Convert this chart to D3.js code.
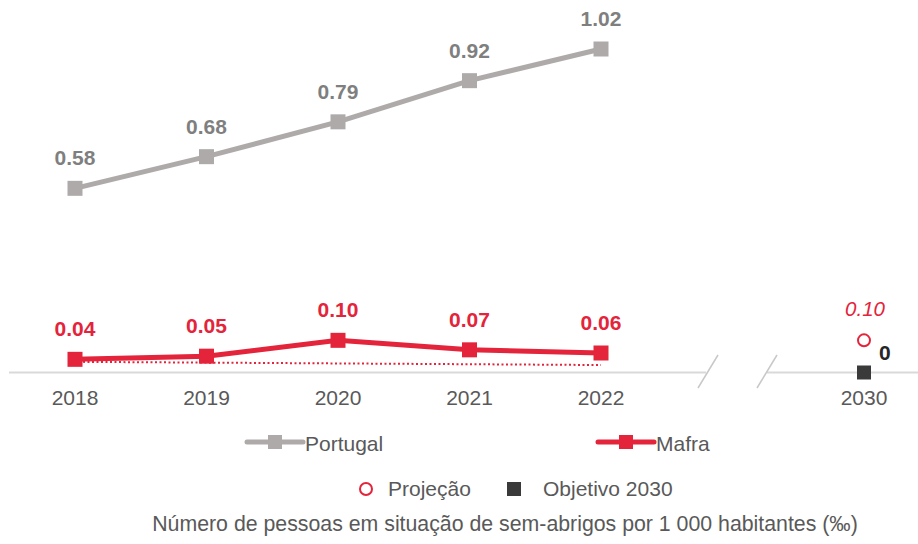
<!DOCTYPE html>
<html><head><meta charset="utf-8">
<script src="https://cdn.jsdelivr.net/npm/d3@7"></script>
<style>body{margin:0;background:#fff}svg{display:block;font-family:"Liberation Sans",Arial,sans-serif}</style>
</head><body><svg id="c" width="918" height="544"></svg>
<script>
const years = ["2018","2019","2020","2021","2022"];
const slots = ["2018","2019","2020","2021","2022","gap","2030"];
const portugal = [0.58,0.68,0.79,0.92,1.02];
const mafra = [0.04,0.05,0.10,0.07,0.06];
const trend = [0.032,0.022];
const projection2030 = 0.10;
const objective2030 = 0;
const labelsTick = ["2018","2019","2020","2021","2022","2030"];
const legendSeries = ["Portugal","Mafra"];
const legendMarks = ["Projeção","Objetivo 2030"];
const footer = "Número de pessoas em situação de sem-abrigos por 1 000 habitantes (‰)";

const grey="#aeaaaa", greyTxt="#7f7f7f", red="#e3243b", dark="#3a3a3a", tickC="#595959";
const svg=d3.select("#c");
const x=d3.scalePoint().domain(slots).range([75,864]);
const y=d3.scaleLinear().domain([0,1.02]).range([372,49]);

// axis baseline with break
const axisG=svg.append("g");
axisG.append("line").attr("x1",9).attr("x2",706).attr("y1",372.5).attr("y2",372.5).attr("stroke","#d9d9d9").attr("stroke-width",2);
axisG.append("line").attr("x1",767).attr("x2",918).attr("y1",372.5).attr("y2",372.5).attr("stroke","#d9d9d9").attr("stroke-width",2);
[708,767].forEach(cx=>axisG.append("line").attr("x1",cx-10).attr("y1",388).attr("x2",cx+10).attr("y2",355).attr("stroke","#c8c8c8").attr("stroke-width",1.5));
labelsTick.forEach(t=>svg.append("text").attr("x",x(t)).attr("y",405).attr("text-anchor","middle").attr("font-size",21).attr("fill",tickC).text(t));

// trend dotted
svg.append("line").attr("x1",x("2018")+8).attr("x2",x("2022")).attr("y1",y(trend[0])).attr("y2",y(trend[1]))
  .attr("stroke",red).attr("stroke-width",2).attr("stroke-dasharray","2,2.5");

const line=d3.line().x((d,i)=>x(years[i])).y(d=>y(d));
function series(vals,col,txtCol){
  svg.append("path").attr("d",line(vals)).attr("fill","none").attr("stroke",col).attr("stroke-width",5);
  vals.forEach((v,i)=>{
    svg.append("rect").attr("x",x(years[i])-7.5).attr("y",y(v)-7.5).attr("width",15).attr("height",15).attr("fill",col);
    svg.append("text").attr("x",x(years[i])).attr("y",y(v)-23).attr("text-anchor","middle").attr("font-size",21).attr("font-weight","bold").attr("fill",txtCol).text(v.toFixed(2));
  });
}
series(portugal,grey,greyTxt);
series(mafra,red,red);

// 2030 marks
svg.append("circle").attr("cx",x("2030")).attr("cy",y(projection2030)).attr("r",6).attr("fill","none").attr("stroke",red).attr("stroke-width",2);
svg.append("text").attr("x",x("2030")+1).attr("y",y(projection2030)-24).attr("text-anchor","middle").attr("font-size",20.5).attr("font-style","italic").attr("fill",red).text(projection2030.toFixed(2));
svg.append("rect").attr("x",x("2030")-7).attr("y",y(objective2030)-6.5).attr("width",14).attr("height",14).attr("fill",dark);
svg.append("text").attr("x",x("2030")+15).attr("y",y(objective2030)-12).attr("font-size",21).attr("font-weight","bold").attr("fill","#262626").text(String(objective2030));

// legend row 1
[[247,grey],[598,red]].forEach(([lx,col],i)=>{
  svg.append("line").attr("x1",lx).attr("x2",lx+56).attr("y1",442).attr("y2",442).attr("stroke",col).attr("stroke-width",5).attr("stroke-linecap","round");
  svg.append("rect").attr("x",lx+21).attr("y",435).attr("width",14).attr("height",14).attr("fill",col);
  svg.append("text").attr("x",lx+58).attr("y",451).attr("font-size",21).attr("fill",tickC).text(legendSeries[i]);
});
// legend row 2
svg.append("circle").attr("cx",366).attr("cy",489).attr("r",6).attr("fill","none").attr("stroke",red).attr("stroke-width",2);
svg.append("text").attr("x",388).attr("y",496).attr("font-size",21).attr("fill",tickC).text(legendMarks[0]);
svg.append("rect").attr("x",507).attr("y",482).attr("width",14).attr("height",14).attr("fill",dark);
svg.append("text").attr("x",543).attr("y",496).attr("font-size",21).attr("fill",tickC).text(legendMarks[1]);

svg.append("text").attr("x",505).attr("y",531).attr("text-anchor","middle").attr("font-size",21.3).attr("fill",tickC).text(footer);
</script></body></html>
